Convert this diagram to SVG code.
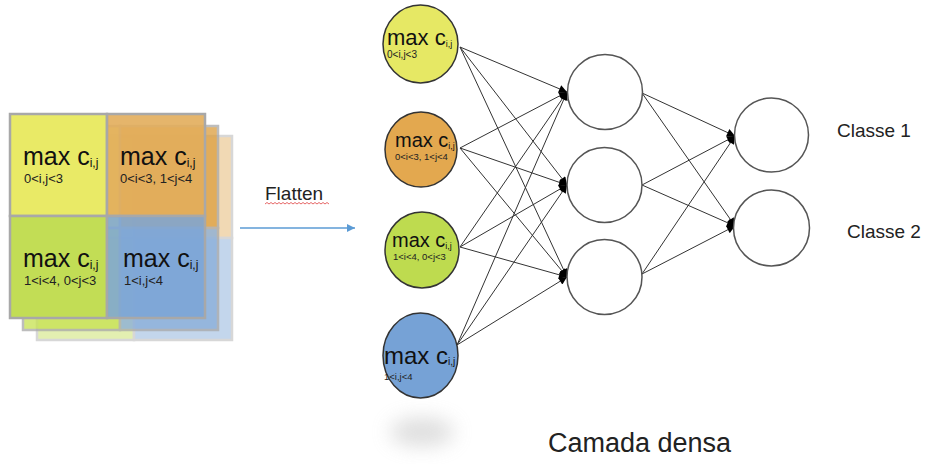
<svg xmlns="http://www.w3.org/2000/svg" width="926" height="464" viewBox="0 0 926 464">
<style>
.cell{stroke:#a8a8a8;stroke-width:2.5}
.big{font-family:"Liberation Sans",Arial,sans-serif;fill:#111}
.sm{font-family:"Liberation Sans",Arial,sans-serif;fill:#222}
.lbl{font-family:"Liberation Sans",Arial,sans-serif;fill:#222}
.inp{stroke:#333;stroke-width:1.5}
.neu{fill:#fff;stroke:#555;stroke-width:1.5}
.con{stroke:#333;stroke-width:1;fill:none;marker-end:url(#ah)}
</style>
<defs>
<marker id="ah" viewBox="0 0 10 10" refX="10" refY="5" markerWidth="9" markerHeight="8" markerUnits="userSpaceOnUse" orient="auto">
<path d="M0,0 L10,5 L0,10 z" fill="#000"/>
</marker>
<marker id="bh" viewBox="0 0 10 10" refX="10" refY="5" markerWidth="9" markerHeight="8" markerUnits="userSpaceOnUse" orient="auto">
<path d="M0,0 L10,5 L0,10 z" fill="#5b9bd5"/>
</marker>
<filter id="blur" x="-80%" y="-80%" width="260%" height="260%"><feGaussianBlur stdDeviation="10"/></filter>
</defs>

<!-- feature maps stack -->
<g id="featuremaps">
<g id="layer3" transform="translate(27,22)" opacity="0.45">
<rect class="cell" x="10" y="114" width="97" height="102" fill="#e9ea66"/>
<rect class="cell" x="107" y="114" width="98" height="102" fill="#e2ad5b"/>
<rect class="cell" x="10" y="216" width="97" height="102" fill="#c2dd55"/>
<rect class="cell" x="107" y="216" width="98" height="102" fill="#7ba5d6"/>
</g>
<g id="layer2" transform="translate(13,12)" opacity="0.75">
<rect class="cell" x="10" y="114" width="97" height="102" fill="#e9ea66"/>
<rect class="cell" x="107" y="114" width="98" height="102" fill="#dc9d3c"/>
<rect class="cell" x="10" y="216" width="97" height="102" fill="#c6e24e"/>
<rect class="cell" x="107" y="216" width="98" height="102" fill="#86acd9"/>
</g>
<g id="layer1">
<rect class="cell" x="10" y="114" width="97" height="102" fill="#e9ea66"/>
<rect class="cell" x="107" y="114" width="98" height="102" fill="#e2ad5b" fill-opacity="0.9"/>
<rect class="cell" x="10" y="216" width="97" height="102" fill="#c2dd55"/>
<rect class="cell" x="107" y="216" width="98" height="102" fill="#7ba5d6" fill-opacity="0.85"/>
</g>
<g id="cell-yellow">
<text class="big" x="23" y="165" font-size="25">max c<tspan font-size="12" dy="2">i,j</tspan></text>
<text class="sm" x="24" y="183" font-size="13">0&lt;i,j&lt;3</text>
</g>
<g id="cell-orange">
<text class="big" x="120" y="165" font-size="25">max c<tspan font-size="12" dy="2">i,j</tspan></text>
<text class="sm" x="120" y="183" font-size="13">0&lt;i&lt;3, 1&lt;j&lt;4</text>
</g>
<g id="cell-green">
<text class="big" x="23" y="267" font-size="25">max c<tspan font-size="12" dy="2">i,j</tspan></text>
<text class="sm" x="24" y="285" font-size="13">1&lt;i&lt;4, 0&lt;j&lt;3</text>
</g>
<g id="cell-blue">
<text class="big" x="123" y="267" font-size="25">max c<tspan font-size="12" dy="2">i,j</tspan></text>
<text class="sm" x="124" y="285" font-size="13">1&lt;i,j&lt;4</text>
</g>
</g>

<!-- flatten -->
<g id="flatten">
<text class="lbl" x="265" y="200" font-size="19">Flatten</text>
<path d="M265,204 l2,-1.5 l2,1.5 l2,-1.5 l2,1.5 l2,-1.5 l2,1.5 l2,-1.5 l2,1.5 l2,-1.5 l2,1.5 l2,-1.5 l2,1.5 l2,-1.5 l2,1.5 l2,-1.5 l2,1.5 l2,-1.5 l2,1.5 l2,-1.5 l2,1.5 l2,-1.5 l2,1.5 l2,-1.5 l2,1.5 l2,-1.5 l2,1.5 l2,-1.5 l2,1.5 l2,-1.5 l2,1.5 l2,-1.5 l2,1.5" fill="none" stroke="#e04040" stroke-width="0.8"/>
<line x1="240" y1="228" x2="355" y2="228" stroke="#5b9bd5" stroke-width="1.5" marker-end="url(#bh)"/>
</g>

<!-- connectors -->
<g id="connectors">
<path class="con" d="M460,47 L567,92"/>
<path class="con" d="M460,47 L567,185"/>
<path class="con" d="M460,47 L567,277"/>
<path class="con" d="M460,148 L567,92"/>
<path class="con" d="M460,148 L567,185"/>
<path class="con" d="M460,148 L567,277"/>
<path class="con" d="M460,247 L567,92"/>
<path class="con" d="M460,247 L567,185"/>
<path class="con" d="M460,247 L567,277"/>
<path class="con" d="M457,345 L567,92"/>
<path class="con" d="M457,345 L567,185"/>
<path class="con" d="M457,345 L567,277"/>
<path class="con" d="M642,93 L735,136"/>
<path class="con" d="M642,93 L735,226"/>
<path class="con" d="M642,185 L735,136"/>
<path class="con" d="M642,185 L735,226"/>
<path class="con" d="M642,274 L735,136"/>
<path class="con" d="M642,274 L735,226"/>
</g>

<!-- input neurons -->
<g id="in1">
<ellipse class="inp" cx="420.5" cy="44" rx="37.5" ry="39" fill="#e6e864"/>
<text class="big" x="387" y="45" font-size="22">max c<tspan font-size="9" dy="2">i,j</tspan></text>
<text class="sm" x="387" y="58" font-size="10">0&lt;i,j&lt;3</text>
</g>
<g id="in2">
<ellipse class="inp" cx="421" cy="149.5" rx="36" ry="37.5" fill="#e3a84f"/>
<text class="big" x="395" y="147" font-size="20">max c<tspan font-size="9" dy="2">i,j</tspan></text>
<text class="sm" x="395" y="160" font-size="9.5">0&lt;i&lt;3, 1&lt;j&lt;4</text>
</g>
<g id="in3">
<ellipse class="inp" cx="422" cy="250" rx="37" ry="38" fill="#bedb4f"/>
<text class="big" x="392" y="247" font-size="20">max c<tspan font-size="9" dy="2">i,j</tspan></text>
<text class="sm" x="393" y="260" font-size="9.5">1&lt;i&lt;4, 0&lt;j&lt;3</text>
</g>
<g id="in4">
<ellipse cx="422" cy="432" rx="32" ry="14" fill="#aaa" opacity="0.4" filter="url(#blur)"/>
<ellipse class="inp" cx="420.5" cy="355.5" rx="37.5" ry="42.5" fill="#76a2d6"/>
<text class="big" x="384" y="364" font-size="24">max c<tspan font-size="10" dy="1">i,j</tspan></text>
<text class="sm" x="384" y="380" font-size="9.5">1&lt;i,j&lt;4</text>
</g>

<!-- hidden neurons -->
<g id="h1"><circle class="neu" cx="605" cy="92" r="37.5"/></g>
<g id="h2"><circle class="neu" cx="604.5" cy="185" r="37.5"/></g>
<g id="h3"><circle class="neu" cx="604.5" cy="277" r="37.5"/></g>

<!-- output neurons -->
<g id="o1"><circle class="neu" cx="771.5" cy="135" r="37"/><text class="lbl" x="837" y="137" font-size="19">Classe 1</text></g>
<g id="o2"><circle class="neu" cx="771.5" cy="228" r="38"/><text class="lbl" x="847" y="238" font-size="19">Classe 2</text></g>

<g id="caption"><text class="lbl" x="548" y="452" font-size="27">Camada densa</text></g>
</svg>
